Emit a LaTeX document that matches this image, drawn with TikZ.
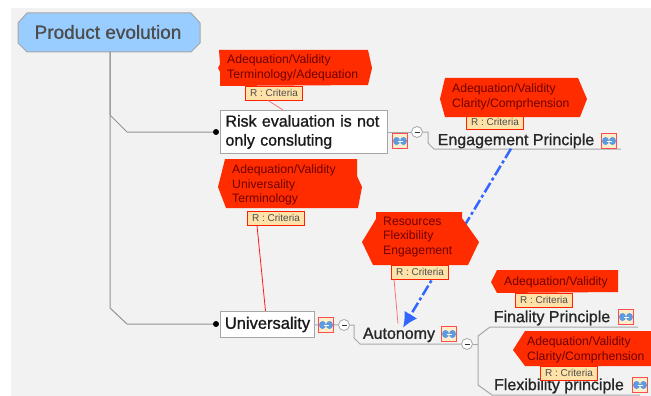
\documentclass[tikz,border=0pt]{standalone}
\usepackage{fontspec}
\setmainfont{Liberation Sans}
\newfontfamily\topicfont[FakeBold=1]{Liberation Sans}
\usetikzlibrary{arrows.meta}
\definecolor{panel}{HTML}{F2F2F2}
\definecolor{rootblue}{HTML}{99CCFF}
\definecolor{callred}{HTML}{FF2C00}
\definecolor{calltext}{HTML}{6E0000}
\definecolor{critfill}{HTML}{FFE2A8}
\definecolor{linkblue}{HTML}{3366FF}
\definecolor{branch}{HTML}{A8A8A8}
\definecolor{iconblue}{HTML}{5C9BE0}
\tikzset{
	treeline/.style={draw=gray!85, line width=1},
	subline/.style={draw=branch, line width=1},
	topic/.style={draw=gray!70, fill=white, line width=1, inner sep=0, anchor=north west, text=black!90},
	leaf/.style={inner sep=0, font=\topicfont\fontsize{16}{16}\selectfont, text=black!85},
	calltxt/.style={inner sep=0, anchor=west, align=left, text=calltext, font=\fontsize{12.2}{14.5}\selectfont},
	crit/.style={draw=red!75!orange, fill=critfill, line width=0.8, minimum width=57, minimum height=14, inner sep=0, text=black!70, font=\fontsize{10}{10}\selectfont},
	linkicon/.style={draw=red!70, fill=critfill!60, line width=0.8, minimum width=15, minimum height=15, inner sep=0,
		path picture={
			\fill[iconblue] (path picture bounding box.center) ++(-3.5,0) ellipse (3.5 and 4);
			\fill[iconblue] (path picture bounding box.center) ++(3.5,0) ellipse (3.5 and 4);
			\draw[white, line width=0.8] (path picture bounding box.center) ++(-2.5,0) -- ++(5,0);
		}},
	minus/.style={circle, draw=gray!70, fill=white, line width=0.8, minimum size=11, inner sep=0,
		path picture={
			\draw[black!80, line width=1] (path picture bounding box.center) ++(-2.5,0) -- ++(5,0);
		}},
	dot/.style={circle, fill=black, minimum size=6, inner sep=0},
}
\begin{document}
\begin{tikzpicture}[x=1pt,y=-1pt]
	\useasboundingbox (0,0) rectangle (651,396);
	\fill[panel] (11,8) rectangle (651,396);
	
	% root
	\draw[fill=rootblue, draw=gray!70, line width=1] (27,13) -- (191,13) -- (200,23) -- (200,43) -- (191,52) -- (27,52) -- (18,43) -- (18,23) -- cycle;
	\node[inner sep=0, text=black!70, font=\topicfont\fontsize{19}{19}\selectfont] (root) at (108,32) {Product evolution};
	\coordinate (rootfoot) at (110,52);
	
	% main branches
	\node[dot] (riskdot) at (216,132) {};
	\node[dot] (unidot) at (216,324) {};
	\draw[treeline] (rootfoot) -- (110,115) -- (127,132) -- (riskdot);
	\draw[treeline] (rootfoot) -- (110,308) -- (127,324) -- (unidot);
	
	% boxes
	\node[topic, minimum width=167, minimum height=43, align=left, text width=157, inner xsep=5, font=\topicfont\fontsize{16}{19}\selectfont] (risk) at (220,110) {Risk evaluation is not\\only consluting};
	\node[topic, minimum width=94, minimum height=26, font=\topicfont\fontsize{16.5}{16.5}\selectfont] (uni) at (220,311) {Universality};
	
	% leaves
	\node[leaf] (engage) at (516,141) {Engagement Principle};
	\node[leaf] (auto) at (399,335) {Autonomy};
	\node[leaf] (final) at (552,318) {Finality Principle};
	\node[leaf] (flex) at (559,386) {Flexibility principle};
	
	% minus buttons
	\node[minus] (riskm) at (417,132) {};
	\node[minus] (unim) at (344,325) {};
	\node[minus] (autom) at (467,344) {};
	
	% tree lines right
	\draw[subline] (riskm) -- (387,132);
	\draw[subline] (riskm) -- (428,132) -- (428,143) -- (434,149) -- (621,149);
	\draw[subline] (uni) -- (unim);
	\draw[subline] (unim) -- (354,325) -- (354,338) -- (360,344) -- (autom);
	\draw[subline] (autom) -- (478,344);
	\draw[subline] (478,344) -- (478,336) -- (490,327) -- (638,327);
	\draw[subline] (478,344) -- (478,385) -- (492,395) -- (640,395);
	
	% icons
	\node[linkicon] (riskicon) at (400,141) {};
	\node[linkicon] (uniicon) at (326,325) {};
	\node[linkicon] (engicon) at (609,141) {};
	\node[linkicon] (autoicon) at (449,334) {};
	\node[linkicon] (finicon) at (626,317) {};
	\node[linkicon] (flexicon) at (640,385) {};
	
	% blue link, under the callouts
	\draw[linkblue, line width=2.5, dash pattern=on 11pt off 3pt on 3pt off 3pt, -{Latex[length=15pt,width=15pt]}] ([xshift=-5]engage.south) -- ([xshift=4]auto.north);
	
	% criteria labels and thin red lines
	\node[crit] (c1) at (274,93) {R : Criteria};
	\node[crit] (c2) at (276,218) {R : Criteria};
	\node[crit] (c3) at (495,122) {R : Criteria};
	\node[crit] (c4) at (420,272) {R : Criteria};
	\node[crit] (c5) at (544,300) {R : Criteria};
	\node[crit] (c6) at (569,373) {R : Criteria};
	\draw[red!55, line width=0.8] ([xshift=-6]c1.south) -- ([xshift=-21]risk.north);
	\draw[red!90, line width=0.8] ([xshift=-19]c2.south) -- ([xshift=-2]uni.north);
	\draw[red!55, line width=0.8] ([xshift=-26]c4.south) -- ([yshift=4,xshift=-1]auto.north);
	
	% callouts
	\fill[callred] (219,50) -- (368,50) -- (372,68) -- (368,85) -- (220,86) -- (220,72) -- (218,68) -- (220,64) -- cycle;
	\node[calltxt] (t1) at (227,68) {Adequation/Validity\\Terminology/Adequation};
	\fill[callred] (225,159) -- (357,159) -- (357,176) -- (362,187) -- (358,208) -- (226,208) -- (218,187) -- cycle;
	\node[calltxt] (t2) at (232,185) {Adequation/Validity\\Universality\\Terminology};
	\fill[callred] (445,78) -- (578,78) -- (587,99) -- (580,117) -- (445,117) -- (440,99) -- cycle;
	\node[calltxt] (t3) at (452,97) {Adequation/Validity\\Clarity/Comprhension};
	\fill[callred] (376,212) -- (462,212) -- (462,218) -- (479,242) -- (468,265) -- (373,265) -- (362,242) -- (376,219) -- cycle;
	\node[calltxt] (t4) at (383,237) {Resources\\Flexibility\\Engagement};
	\fill[callred] (497,270) -- (618,270) -- (618,292) -- (497,293) -- (491,282) -- cycle;
	\node[calltxt] (t5) at (504,282) {Adequation/Validity};
	\fill[callred] (525,331) -- (651,331) -- (651,366) -- (525,366) -- (513,350) -- cycle;
	\node[calltxt] (t6) at (527,350) {Adequation/Validity\\Clarity/Comprhension};
\end{tikzpicture}
\end{document}
